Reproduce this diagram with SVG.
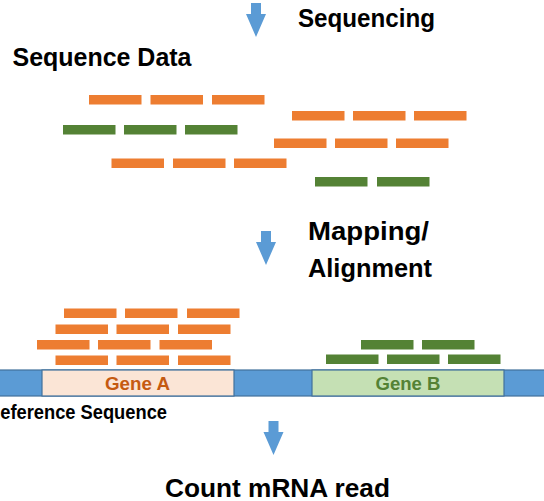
<svg xmlns="http://www.w3.org/2000/svg" width="544" height="501" viewBox="0 0 544 501">
  <style>
    .title { font-family: "Liberation Sans", Arial, sans-serif; font-weight: bold; font-size: 25px; fill: #000; }
    .gene { font-family: "Liberation Sans", Arial, sans-serif; font-weight: bold; font-size: 18px; text-anchor: middle; }
    .or { fill: #ED7D31; }
    .gr { fill: #548235; }
    .arrow { fill: #5B9BD5; }
  </style>
  <defs>
    <rect id="ro" width="52.5" height="9.5" class="or"/>
    <rect id="rg" width="52.5" height="9.5" class="gr"/>
    <!-- down arrow, origin at top centre of shaft -->
    <path id="down" d="M-5,0 H5 V11 H10 L0,34 L-10,11 H-5 Z" class="arrow"/>
  </defs>

  <rect width="544" height="501" fill="#fff"/>

  <g id="connectors">
    <use href="#down" x="256" y="3"/>
    <use href="#down" x="266" y="231"/>
    <use href="#down" x="273.5" y="421"/>
  </g>

  <g id="sequencing-label">
    <text class="title" x="298" y="27" textLength="137" lengthAdjust="spacingAndGlyphs">Sequencing</text>
  </g>

  <g id="sequence-data">
    <text class="title" x="12.5" y="66" textLength="179" lengthAdjust="spacingAndGlyphs">Sequence Data</text>
    <use href="#ro" x="89" y="95"/><use href="#ro" x="150.5" y="95"/><use href="#ro" x="212" y="95"/>
    <use href="#ro" x="292" y="111"/><use href="#ro" x="353" y="111"/><use href="#ro" x="414" y="111"/>
    <use href="#rg" x="63" y="125"/><use href="#rg" x="124" y="125"/><use href="#rg" x="185" y="125"/>
    <use href="#ro" x="274" y="138.5"/><use href="#ro" x="335" y="138.5"/><use href="#ro" x="396" y="138.5"/>
    <use href="#ro" x="111.5" y="158.5"/><use href="#ro" x="173" y="158.5"/><use href="#ro" x="234" y="158.5"/>
    <use href="#rg" x="315" y="177"/><use href="#rg" x="377" y="177"/>
  </g>

  <g id="mapping-label">
    <text class="title" x="308" y="240" textLength="121" lengthAdjust="spacingAndGlyphs">Mapping/</text>
    <text class="title" x="308" y="277" textLength="124" lengthAdjust="spacingAndGlyphs">Alignment</text>
  </g>

  <g id="aligned-reads-a">
    <use href="#ro" x="64" y="308.5"/><use href="#ro" x="125" y="308.5"/><use href="#ro" x="187" y="308.5"/>
    <use href="#ro" x="55.5" y="324.5"/><use href="#ro" x="116.5" y="324.5"/><use href="#ro" x="178" y="324.5"/>
    <use href="#ro" x="37" y="340"/><use href="#ro" x="98" y="340"/><use href="#ro" x="159.5" y="340"/>
    <use href="#ro" x="55.5" y="355.5"/><use href="#ro" x="116.5" y="355.5"/><use href="#ro" x="178" y="355.5"/>
  </g>

  <g id="aligned-reads-b">
    <use href="#rg" x="361" y="340"/><use href="#rg" x="422" y="340"/>
    <use href="#rg" x="326" y="354.5"/><use href="#rg" x="387" y="354.5"/><use href="#rg" x="448" y="354.5"/>
  </g>

  <g id="reference">
    <rect x="-2" y="370" width="548" height="26" fill="#5B9BD5" stroke="#41719C" stroke-width="1.2"/>
    <text x="-13" y="419" font-family="'Liberation Sans', Arial, sans-serif" font-weight="bold" font-size="20" textLength="180" lengthAdjust="spacingAndGlyphs">Reference Sequence</text>
  </g>

  <g id="gene-a">
    <rect x="42" y="370" width="192" height="26" fill="#FBE5D6" stroke="#41719C" stroke-width="1.2"/>
    <text class="gene" x="137.5" y="389.5" fill="#C55A11" textLength="65" lengthAdjust="spacingAndGlyphs">Gene A</text>
  </g>

  <g id="gene-b">
    <rect x="312" y="370" width="192" height="26" fill="#C5E0B4" stroke="#41719C" stroke-width="1.2"/>
    <text class="gene" x="408" y="389.5" fill="#548235" textLength="65" lengthAdjust="spacingAndGlyphs">Gene B</text>
  </g>

  <g id="count-label">
    <text class="title" x="165" y="497" textLength="225" lengthAdjust="spacingAndGlyphs">Count mRNA read</text>
  </g>
</svg>
